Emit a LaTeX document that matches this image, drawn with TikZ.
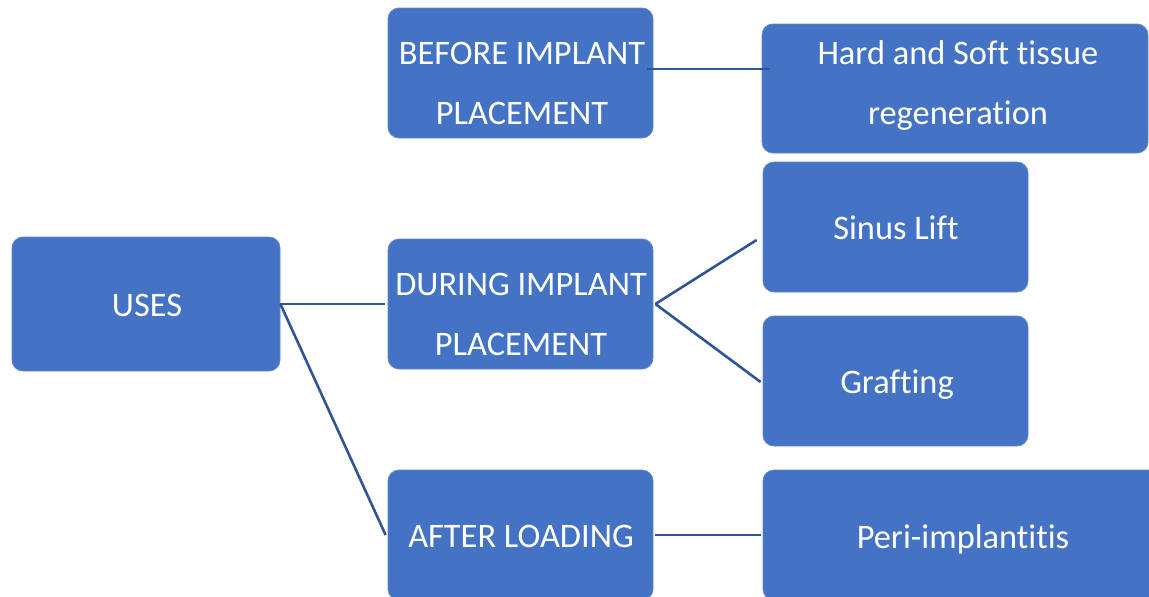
\documentclass[tikz,border=0pt]{standalone}
\usepackage{fontspec}
\setmainfont[Ligatures=NoCommon]{Carlito}
\usetikzlibrary{calc}
\definecolor{boxblue}{HTML}{4472C4}
\definecolor{lineblue}{HTML}{2F5597}
\tikzset{
  box/.style={draw=boxblue!85!white, line width=0.8pt, fill=boxblue, rounded corners=11pt, inner sep=0pt, rectangle},
  txt/.style={text=white, align=center, font=\fontsize{34.4}{60}\selectfont, inner sep=0pt},
  conn/.style={draw=lineblue, line width=2.6pt}
}
\begin{document}
\begin{tikzpicture}[x=1pt,y=-1pt]
\clip (0,0) rectangle (1149,597);
\fill[white] (0,0) rectangle (1149,597);
% boxes
\node[box, minimum width=268pt, minimum height=134pt] (uses) at (146,304) {};
\node[box, minimum width=265pt, minimum height=130pt] (before) at (520.5,73) {};
\node[box, minimum width=265pt, minimum height=130pt] (during) at (520.5,304) {};
\node[box, minimum width=265pt, minimum height=130pt] (after) at (520.5,535) {};
\node[box, minimum width=386pt, minimum height=129pt] (hard) at (955,88.5) {};
\node[box, minimum width=265pt, minimum height=130pt] (sinus) at (895.5,227) {};
\node[box, minimum width=265pt, minimum height=130pt] (graft) at (895.5,381) {};
\node[box, minimum width=397pt, minimum height=130pt] (peri) at (961.5,535) {};
% texts
\node[txt] (usesT) at (147,305) {USES};
\node[txt] (beforeT) at (522,83) {BEFORE IMPLANT\\PLACEMENT};
\node[txt] (duringT) at (521,314) {DURING IMPLANT\\PLACEMENT};
\node[txt] (afterT) at (521,536) {AFTER LOADING};
\node[txt] (hardT) at (958,86) {Hard and Soft tissue\\regeneration};
\node[txt] (sinusT) at (896,228) {Sinus Lift};
\node[txt] (graftT) at (897,385) {Grafting};
\node[txt] (periT) at (963,539) {Peri-implantitis};
% connectors
\draw[conn] (uses.east) -- ($(during.west)+(-3,0)$);
\draw[conn] (uses.east) -- ($(after.west)+(-2,0)$);
\draw[conn] ($(before.east)+(-6,-4)$) -- ($(hard.west)+(8,-19.5)$);
\draw[conn] ($(during.east)+(2,0)$) -- ($(sinus.west)+(-6,13)$);
\draw[conn] ($(during.east)+(2,0)$) -- ($(graft.west)+(-2,1)$);
\draw[conn] ($(after.east)+(2,0)$) -- ($(peri.west)+(-2,0)$);
\end{tikzpicture}
\end{document}
